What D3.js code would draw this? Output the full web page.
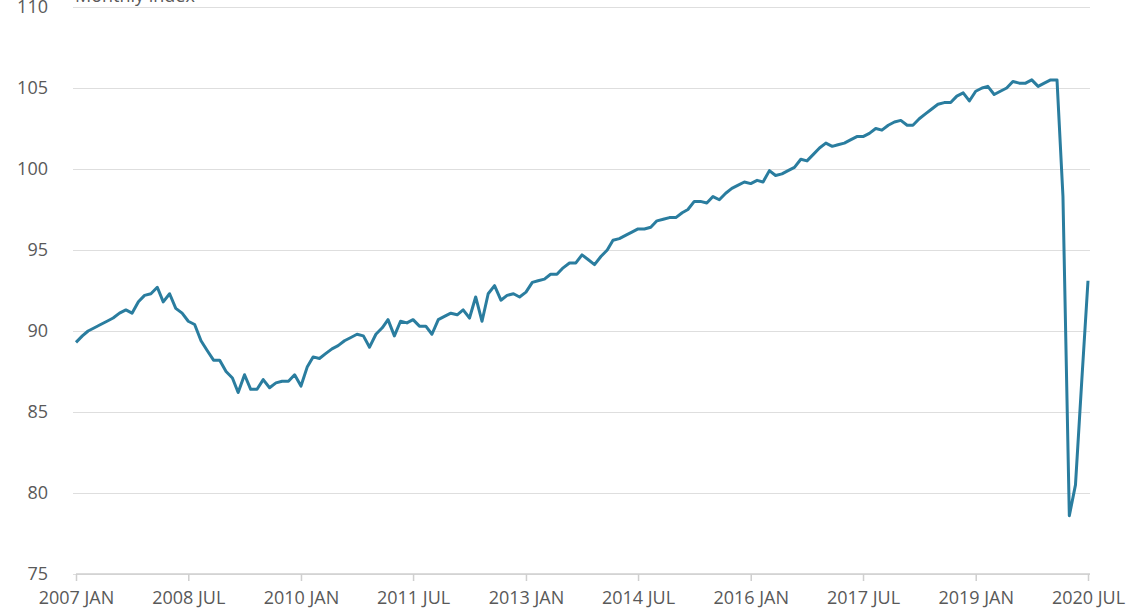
<!DOCTYPE html>
<html>
<head>
<meta charset="utf-8">
<script src="https://cdn.jsdelivr.net/npm/d3@7"></script>
<style>
  body { margin: 0; background: #fff; font-family: "Open Sans", sans-serif; }
  .grid line { stroke: #dedede; stroke-width: 1; }
  .grid .domain { display: none; }
  .y.axis text, .x.axis text { fill: #595959; font-size: 18px; font-family: "Open Sans", sans-serif; }
  .x.axis .domain, .x.axis line { stroke: #cfcfcf; stroke-width: 1.5; }
  .line { fill: none; stroke: #2a7d9f; stroke-width: 3; stroke-linejoin: round; }
</style>
</head>
<body>
<script>
// monthly index, 2007 JAN .. 2020 JUL
var startMonth = "2007-01";
var values = [
  89.3, 89.7, 90.0, 90.2, 90.4, 90.6, 90.8, 91.1, 91.3, 91.1, 91.8, 92.2,   // 2007
  92.3, 92.7, 91.8, 92.3, 91.4, 91.1, 90.6, 90.4, 89.4, 88.8, 88.2, 88.2,   // 2008
  87.5, 87.1, 86.2, 87.3, 86.4, 86.4, 87.0, 86.5, 86.8, 86.9, 86.9, 87.3,   // 2009
  86.6, 87.8, 88.4, 88.3, 88.6, 88.9, 89.1, 89.4, 89.6, 89.8, 89.7, 89.0,   // 2010
  89.8, 90.2, 90.7, 89.7, 90.6, 90.5, 90.7, 90.3, 90.3, 89.8, 90.7, 90.9,   // 2011
  91.1, 91.0, 91.3, 90.8, 92.1, 90.6, 92.3, 92.8, 91.9, 92.2, 92.3, 92.1,   // 2012
  92.4, 93.0, 93.1, 93.2, 93.5, 93.5, 93.9, 94.2, 94.2, 94.7, 94.4, 94.1,   // 2013
  94.6, 95.0, 95.6, 95.7, 95.9, 96.1, 96.3, 96.3, 96.4, 96.8, 96.9, 97.0,   // 2014
  97.0, 97.3, 97.5, 98.0, 98.0, 97.9, 98.3, 98.1, 98.5, 98.8, 99.0, 99.2,   // 2015
  99.1, 99.3, 99.2, 99.9, 99.6, 99.7, 99.9, 100.1, 100.6, 100.5, 100.9, 101.3, // 2016
  101.6, 101.4, 101.5, 101.6, 101.8, 102.0, 102.0, 102.2, 102.5, 102.4, 102.7, 102.9, // 2017
  103.0, 102.7, 102.7, 103.1, 103.4, 103.7, 104.0, 104.1, 104.1, 104.5, 104.7, 104.2, // 2018
  104.8, 105.0, 105.1, 104.6, 104.8, 105.0, 105.4, 105.3, 105.3, 105.5, 105.1, 105.3, // 2019
  105.5, 105.5, 98.3, 78.6, 80.5, 87.0, 93.1                                  // 2020
];
var yTicks = [75, 80, 85, 90, 95, 100, 105, 110];
var xTickLabels = ["2007 JAN", "2008 JUL", "2010 JAN", "2011 JUL", "2013 JAN", "2014 JUL",
                   "2016 JAN", "2017 JUL", "2019 JAN", "2020 JUL"];
var yTitle = "Monthly index";

var parseMonth = d3.timeParse("%Y-%m");
var t0 = parseMonth(startMonth);
var data = values.map(function(v, i) { return { date: d3.timeMonth.offset(t0, i), value: v }; });

var monthNames = { JAN: 0, JUL: 6 };
var xTickDates = xTickLabels.map(function(s) {
  var p = s.split(" ");
  return new Date(+p[0], monthNames[p[1]], 1);
});

var W = 1134, H = 613;
var margin = { top: 7, right: 46, bottom: 39, left: 76 };
var width = W - margin.left - margin.right;
var height = H - margin.top - margin.bottom;

var xScale = d3.scaleTime()
  .domain([t0, data[data.length - 1].date])
  .range([0, width]);

var yScale = d3.scaleLinear()
  .domain([75, 110])
  .range([height, 0]);

var svg = d3.select("body").append("svg")
  .attr("width", W)
  .attr("height", H);

var g = svg.append("g")
  .attr("transform", "translate(" + margin.left + "," + margin.top + ")");

// gridlines
g.append("g")
  .attr("class", "grid")
  .attr("transform", "translate(-3,0)")
  .call(d3.axisLeft(yScale).tickValues(yTicks).tickSize(-(width + 5)).tickFormat(""));

// y labels
g.append("g")
  .attr("class", "y axis")
  .call(d3.axisLeft(yScale).tickValues(yTicks).tickSize(0).tickPadding(28))
  .call(function(s) { s.select(".domain").remove(); });

// x axis
var xAxis = g.append("g")
  .attr("class", "x axis")
  .attr("transform", "translate(0," + height + ")")
  .call(d3.axisBottom(xScale).tickValues(xTickDates).tickSize(7).tickSizeOuter(0).tickPadding(10)
    .tickFormat(function(d, i) { return xTickLabels[i]; }));
xAxis.select(".domain").attr("d", "M0,0H" + (width + 2));

// line
var line = d3.line()
  .x(function(d) { return xScale(d.date); })
  .y(function(d) { return yScale(d.value); });

g.append("path")
  .datum(data)
  .attr("class", "line")
  .attr("d", line);

// title, mostly cut off at top
svg.append("text")
  .attr("x", 75)
  .attr("y", 2)
  .style("font-size", "18px")
  .style("fill", "#595959")
  .style("font-family", "Open Sans")
  .text(yTitle);
</script>
</body>
</html>
